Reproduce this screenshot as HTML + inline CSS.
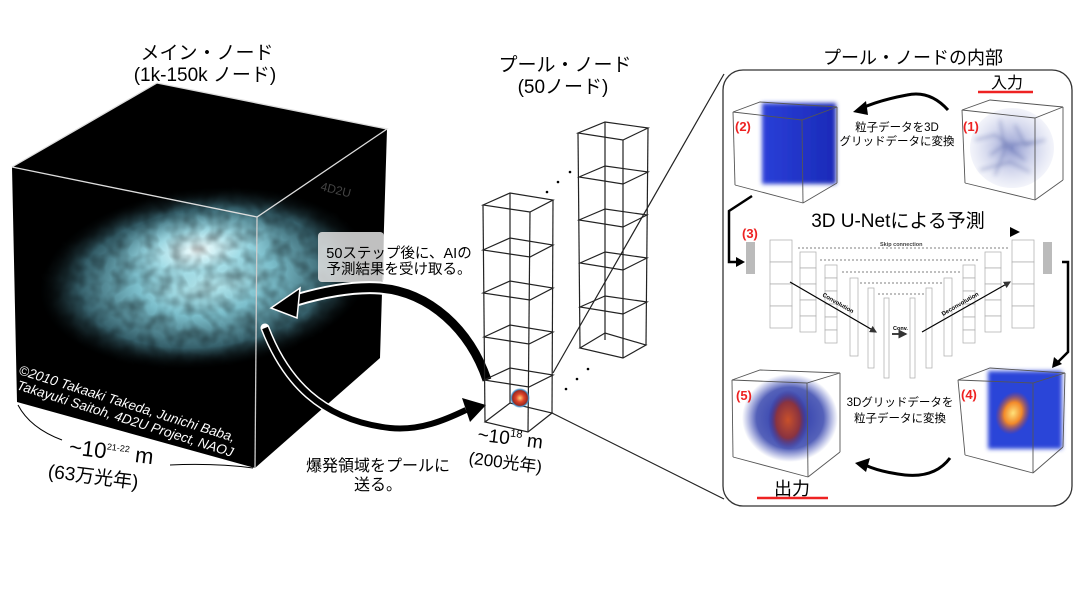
<!DOCTYPE html>
<html><head><meta charset="utf-8"><style>
html,body{margin:0;padding:0;background:#fff;}
svg{display:block;}
text{font-family:"Liberation Sans","Noto Sans CJK JP",sans-serif;}
</style></head><body>
<svg width="1088" height="610" viewBox="0 0 1088 610" xmlns="http://www.w3.org/2000/svg">
<defs>
<radialGradient id="gal" cx="50%" cy="50%" r="50%">
<stop offset="0" stop-color="#c8f4f8"/><stop offset="0.4" stop-color="#7cbfcc"/><stop offset="0.75" stop-color="#355f6a"/><stop offset="1" stop-color="#000" stop-opacity="0"/>
</radialGradient>
<radialGradient id="core" cx="50%" cy="50%" r="50%">
<stop offset="0" stop-color="#f6ffff"/><stop offset="0.5" stop-color="#a6e0ea" stop-opacity="0.85"/><stop offset="1" stop-color="#6fb0be" stop-opacity="0"/>
</radialGradient>
<filter id="mottle" x="0" y="0" width="100%" height="100%">
<feTurbulence type="fractalNoise" baseFrequency="0.07" numOctaves="2" seed="3"/>
<feColorMatrix type="matrix" values="0 0 0 0 0  0 0 0 0 0  0 0 0 0 0  0 0 0 -1.3 0.85"/>
</filter>
<filter id="blur3"><feGaussianBlur stdDeviation="2"/></filter>
<clipPath id="cube"><polygon points="12,167 157,83 387,129 380,358 255,468 17,402"/></clipPath>
<radialGradient id="ball" cx="50%" cy="50%" r="50%">
<stop offset="0" stop-color="#ffd27a"/><stop offset="0.4" stop-color="#e0452a"/><stop offset="0.75" stop-color="#9a2a20"/><stop offset="0.85" stop-color="#3f8fc8"/><stop offset="1" stop-color="#3f8fc8" stop-opacity="0"/>
</radialGradient>
<linearGradient id="blue2" x1="0" x2="1"><stop offset="0" stop-color="#2a3fd8"/><stop offset="1" stop-color="#1a2ab8"/></linearGradient>
<radialGradient id="fire" cx="50%" cy="50%" r="50%"><stop offset="0" stop-color="#ffe27a"/><stop offset="0.5" stop-color="#f28a2a"/><stop offset="1" stop-color="#c0402a" stop-opacity="0"/></radialGradient>
<radialGradient id="fire5" cx="50%" cy="50%" r="50%"><stop offset="0" stop-color="#c8502a"/><stop offset="0.6" stop-color="#8a3340"/><stop offset="1" stop-color="#2a2a9a" stop-opacity="0"/></radialGradient>
<radialGradient id="cloud" cx="50%" cy="50%" r="50%"><stop offset="0" stop-color="#2230a8"/><stop offset="0.7" stop-color="#2a3aa8" stop-opacity="0.8"/><stop offset="1" stop-color="#3a4ab8" stop-opacity="0"/></radialGradient>
<radialGradient id="speck" cx="50%" cy="50%" r="50%"><stop offset="0" stop-color="#4a5ab0"/><stop offset="1" stop-color="#9aa4d8" stop-opacity="0.2"/></radialGradient>
<marker id="ah" markerWidth="6" markerHeight="6" refX="5" refY="3" orient="auto"><path d="M0,0 L6,3 L0,6 z" fill="#333"/></marker>
</defs>

<text x="207" y="59" font-size="19" text-anchor="middle">メイン・ノード</text>
<text x="205" y="81" font-size="19" text-anchor="middle">(1k-150k ノード)</text>
<text x="565" y="71" font-size="19" text-anchor="middle">プール・ノード</text>
<text x="563" y="93" font-size="19" text-anchor="middle">(50ノード)</text>

<polygon points="12,167 157,83 387,129 380,358 255,468 17,402" fill="#000"/>
<g clip-path="url(#cube)">
<ellipse cx="205" cy="278" rx="170" ry="92" fill="url(#gal)" transform="rotate(-6 205 278)"/>
<ellipse cx="198" cy="250" rx="90" ry="40" fill="url(#core)" transform="rotate(-8 198 250)"/>
<rect x="30" y="180" width="350" height="190" filter="url(#mottle)" opacity="0.55"/>
</g>
<polyline points="12,167 157,83 387,129 257,217 12,167" fill="none" stroke="#ddd" stroke-width="1.3"/>
<line x1="257" y1="217" x2="255" y2="468" stroke="#ccc" stroke-width="1.3"/>
<text x="320" y="190" font-size="12" fill="#444" transform="rotate(14 320 190)">4D2U</text>
<g fill="#fff" font-size="13.5" font-style="italic">
<text x="18" y="374" transform="rotate(17.5 18 374)">©2010 Takaaki Takeda, Junichi Baba,</text>
<text x="16" y="389" transform="rotate(17.5 16 389)">Takayuki Saitoh, 4D2U Project, NAOJ</text>
</g>
<path d="M18,405 Q30,428 62,440" fill="none" stroke="#000" stroke-width="1"/>
<path d="M170,465 Q215,463 253,468" fill="none" stroke="#000" stroke-width="1"/>
<g transform="rotate(7 110 460)">
<text x="68" y="459" font-size="22">~10<tspan font-size="9" dy="-9">21-22</tspan><tspan dy="9"> m</tspan></text>
<text x="50" y="485" font-size="19">(63万光年)</text>
</g>

<rect x="318" y="232" width="66" height="50" rx="4" fill="#e2e2e2" opacity="0.85"/>
<text x="399" y="258" font-size="14.5" text-anchor="middle">50ステップ後に、AIの</text>
<text x="399" y="274" font-size="14.5" text-anchor="middle">予測結果を受け取る。</text>

<path d="M487,380 C470,330 430,292 380,288 C350,286 320,293 296,300" fill="none" stroke="#fff" stroke-width="13" stroke-linecap="round"/>
<path d="M487,380 C470,330 430,292 380,288 C350,286 320,293 296,300" fill="none" stroke="#000" stroke-width="9"/>
<polygon points="271,308 300,288 297,318" fill="#000" stroke="#fff" stroke-width="1.5"/>
<path d="M265,328 C285,380 320,420 390,428 C420,431 445,420 466,410" fill="none" stroke="#fff" stroke-width="9" stroke-linecap="round"/>
<path d="M265,328 C285,380 320,420 390,428 C420,431 445,420 466,410" fill="none" stroke="#000" stroke-width="6"/>
<polygon points="486,405 462,398 470,422" fill="#000"/>
<text x="378" y="471" font-size="16" text-anchor="middle">爆発領域をプールに</text>
<text x="378" y="490" font-size="16" text-anchor="middle">送る。</text>

<g fill="none" stroke="#222" stroke-width="1.2">
<line x1="483" y1="205" x2="485" y2="422"/><line x1="530" y1="212" x2="528" y2="432"/>
<line x1="510" y1="193" x2="510" y2="403"/><line x1="553" y1="200" x2="552" y2="413"/>
<polygon points="483,205 510,193 553,200 530,212"/>
<polygon points="483,250 510,238 553,245 530,257"/>
<polygon points="483,293 510,281 553,288 530,300"/>
<polygon points="484,337 510,325 553,332 529,344"/>
<polygon points="484,380 510,368 553,375 529,387"/>
<polygon points="485,422 510,403 552,413 528,432"/>
<line x1="578" y1="133" x2="580" y2="348"/><line x1="623" y1="140" x2="623" y2="358"/>
<line x1="605" y1="122" x2="605" y2="340"/><line x1="648" y1="128" x2="646" y2="345"/>
<polygon points="578,133 605,122 648,128 623,140"/>
<polygon points="579,177 605,166 648,172 623,184"/>
<polygon points="579,220 605,209 647,215 623,227"/>
<polygon points="580,263 605,252 647,258 623,270"/>
<polygon points="580,307 605,296 647,302 623,314"/>
<polygon points="580,348 605,333 646,345 623,358"/>
<line x1="553" y1="373" x2="724" y2="74"/>
<line x1="552" y1="413" x2="724" y2="499"/>
</g>
<g fill="#000"><circle cx="570" cy="172" r="1.3"/><circle cx="558" cy="182" r="1.3"/><circle cx="547" cy="192" r="1.3"/>
<circle cx="588" cy="369" r="1.3"/><circle cx="577" cy="379" r="1.3"/><circle cx="566" cy="389" r="1.3"/></g>
<circle cx="520" cy="398" r="10" fill="url(#ball)"/>
<g transform="rotate(7 505 450)">
<text x="476" y="444" font-size="19">~10<tspan font-size="11" dy="-8">18</tspan><tspan dy="8"> m</tspan></text>
<text x="470" y="468" font-size="17">(200光年)</text>
</g>

<rect x="723" y="70" width="349" height="436" rx="20" fill="none" stroke="#333" stroke-width="1.3"/>
<text x="913" y="64" font-size="18" text-anchor="middle">プール・ノードの内部</text>
<text x="1007" y="88" font-size="16" text-anchor="middle">入力</text>
<line x1="978" y1="92" x2="1033" y2="92" stroke="#e22" stroke-width="2.5"/>
<text x="792" y="495" font-size="18" text-anchor="middle">出力</text>
<line x1="757" y1="498" x2="828" y2="498" stroke="#e22" stroke-width="2.5"/>

<g filter="url(#blur3)">
<rect x="762" y="103" width="74" height="81" fill="url(#blue2)"/>
</g>
<g fill="none" stroke="#555" stroke-width="0.9">
<polygon points="733,112 760,102 837,107 802,120"/><line x1="733" y1="112" x2="735" y2="185"/><line x1="802" y1="120" x2="803" y2="203"/><line x1="837" y1="107" x2="837" y2="183"/><line x1="735" y1="185" x2="803" y2="203"/><line x1="803" y1="203" x2="837" y2="183"/>
</g>
<text x="735" y="131" font-size="13" font-weight="bold" fill="#e22">(2)</text>
<ellipse cx="1012" cy="148" rx="42" ry="40" fill="url(#speck)" opacity="0.6"/>
<g stroke="#2a3a8a" stroke-width="1.2" fill="none" opacity="0.55" filter="url(#blur3)">
<path d="M975,140 l20,-5 l15,10 l25,-3 M990,155 l15,-10 l20,15 M1000,120 l5,30 l-10,25 M980,170 l30,-8 l20,10 M1015,125 l10,20 l20,-5"/>
</g>
<g fill="none" stroke="#555" stroke-width="0.9">
<polygon points="962,110 990,100 1063,107 1035,118"/><line x1="962" y1="110" x2="965" y2="183"/><line x1="1035" y1="118" x2="1035" y2="200"/><line x1="1063" y1="107" x2="1063" y2="180"/><line x1="965" y1="183" x2="1035" y2="200"/><line x1="1035" y1="200" x2="1063" y2="180"/>
</g>
<text x="963" y="131" font-size="13" font-weight="bold" fill="#e22">(1)</text>
<path d="M948,110 Q930,90 907,95 Q880,100 862,108" fill="none" stroke="#000" stroke-width="3"/>
<polygon points="853,112 866,101 868,115" fill="#000"/>
<text x="897" y="131" font-size="11.5" text-anchor="middle">粒子データを3D</text>
<text x="897" y="145" font-size="11.5" text-anchor="middle">グリッドデータに変換</text>

<text x="898" y="227" font-size="19" text-anchor="middle">3D U-Netによる予測</text>
<text x="742" y="238" font-size="13" font-weight="bold" fill="#e22">(3)</text>
<polyline points="752,196 729,211 729,262 738,262" fill="none" stroke="#000" stroke-width="2.5"/>
<polygon points="745,262 736,257 736,267" fill="#000"/>
<polyline points="1062,262 1068,262 1068,352 1058,362" fill="none" stroke="#000" stroke-width="2.5"/>
<polygon points="1052,368 1054,357 1062,364" fill="#000"/>
<polygon points="1020,232 1010,227 1010,237" fill="#000"/>

<rect x="746" y="242" width="9" height="32" fill="#bbb"/>
<rect x="1043" y="242" width="9" height="32" fill="#bbb"/>
<g fill="#fff" stroke="#aaa" stroke-width="0.7">
<rect x="770" y="240" width="22" height="22"/><rect x="770" y="262" width="22" height="22"/><rect x="770" y="284" width="22" height="22"/><rect x="770" y="306" width="22" height="22"/>
<rect x="800" y="252" width="16" height="16"/><rect x="800" y="268" width="16" height="16"/><rect x="800" y="284" width="16" height="16"/><rect x="800" y="300" width="16" height="16"/><rect x="800" y="316" width="16" height="16"/>
<rect x="825" y="265" width="12" height="13"/><rect x="825" y="278" width="12" height="13"/><rect x="825" y="291" width="12" height="13"/><rect x="825" y="304" width="12" height="13"/><rect x="825" y="317" width="12" height="13"/><rect x="825" y="330" width="12" height="13"/>
<rect x="850" y="278" width="8" height="78"/><rect x="868" y="288" width="6" height="80"/><rect x="884" y="298" width="5" height="80"/>
<rect x="910" y="298" width="5" height="80"/><rect x="926" y="288" width="6" height="80"/><rect x="944" y="278" width="8" height="78"/>
<rect x="963" y="265" width="12" height="13"/><rect x="963" y="278" width="12" height="13"/><rect x="963" y="291" width="12" height="13"/><rect x="963" y="304" width="12" height="13"/><rect x="963" y="317" width="12" height="13"/><rect x="963" y="330" width="12" height="13"/>
<rect x="985" y="252" width="16" height="16"/><rect x="985" y="268" width="16" height="16"/><rect x="985" y="284" width="16" height="16"/><rect x="985" y="300" width="16" height="16"/><rect x="985" y="316" width="16" height="16"/>
<rect x="1012" y="240" width="22" height="22"/><rect x="1012" y="262" width="22" height="22"/><rect x="1012" y="284" width="22" height="22"/><rect x="1012" y="306" width="22" height="22"/>
</g>
<g stroke="#555" stroke-width="0.7" stroke-dasharray="2,2">
<line x1="798" y1="248" x2="1008" y2="248"/><line x1="820" y1="260" x2="980" y2="260"/><line x1="842" y1="272" x2="960" y2="272"/><line x1="860" y1="283" x2="942" y2="283"/><line x1="878" y1="294" x2="925" y2="294"/>
</g>
<text x="880" y="246" font-size="5.5" font-weight="bold" fill="#444">Skip connection</text>
<line x1="790" y1="282" x2="876" y2="332" stroke="#000" stroke-width="1.2" marker-end="url(#ah)"/>
<line x1="922" y1="332" x2="1010" y2="282" stroke="#000" stroke-width="1.2" marker-end="url(#ah)"/>
<line x1="892" y1="334" x2="906" y2="334" stroke="#000" stroke-width="1.5" marker-end="url(#ah)"/>
<text x="822" y="296" font-size="6" font-weight="bold" transform="rotate(30 822 296)">Convolution</text>
<text x="943" y="316" font-size="6" font-weight="bold" transform="rotate(-30 943 316)">Deconvolution</text>
<text x="893" y="330" font-size="5.5" font-weight="bold">Conv.</text>

<ellipse cx="790" cy="418" rx="48" ry="44" fill="url(#cloud)"/>
<ellipse cx="788" cy="420" rx="20" ry="30" fill="url(#fire5)"/>
<g fill="none" stroke="#555" stroke-width="0.9">
<polygon points="732,380 760,370 840,373 807,383"/><line x1="732" y1="380" x2="733" y2="457"/><line x1="807" y1="383" x2="808" y2="477"/><line x1="840" y1="373" x2="840" y2="452"/><line x1="733" y1="457" x2="808" y2="477"/><line x1="808" y1="477" x2="840" y2="452"/>
</g>
<text x="736" y="400" font-size="13" font-weight="bold" fill="#e22">(5)</text>
<g filter="url(#blur3)"><rect x="988" y="371" width="74" height="78" fill="#2a44d8"/></g>
<ellipse cx="1013" cy="413" rx="17" ry="22" fill="url(#fire)" transform="rotate(20 1013 413)"/>
<g fill="none" stroke="#555" stroke-width="0.9">
<polygon points="958,380 990,368 1065,373 1033,383"/><line x1="958" y1="380" x2="965" y2="455"/><line x1="1033" y1="383" x2="1033" y2="473"/><line x1="1065" y1="373" x2="1063" y2="447"/><line x1="965" y1="455" x2="1033" y2="473"/><line x1="1033" y1="473" x2="1063" y2="447"/>
</g>
<text x="961" y="399" font-size="13" font-weight="bold" fill="#e22">(4)</text>
<text x="900" y="406" font-size="11.5" text-anchor="middle">3Dグリッドデータを</text>
<text x="900" y="422" font-size="11.5" text-anchor="middle">粒子データに変換</text>
<path d="M950,458 Q935,478 905,475 Q880,472 865,465" fill="none" stroke="#000" stroke-width="3"/>
<polygon points="855,463 870,458 866,472" fill="#000"/>
</svg>
</body></html>
